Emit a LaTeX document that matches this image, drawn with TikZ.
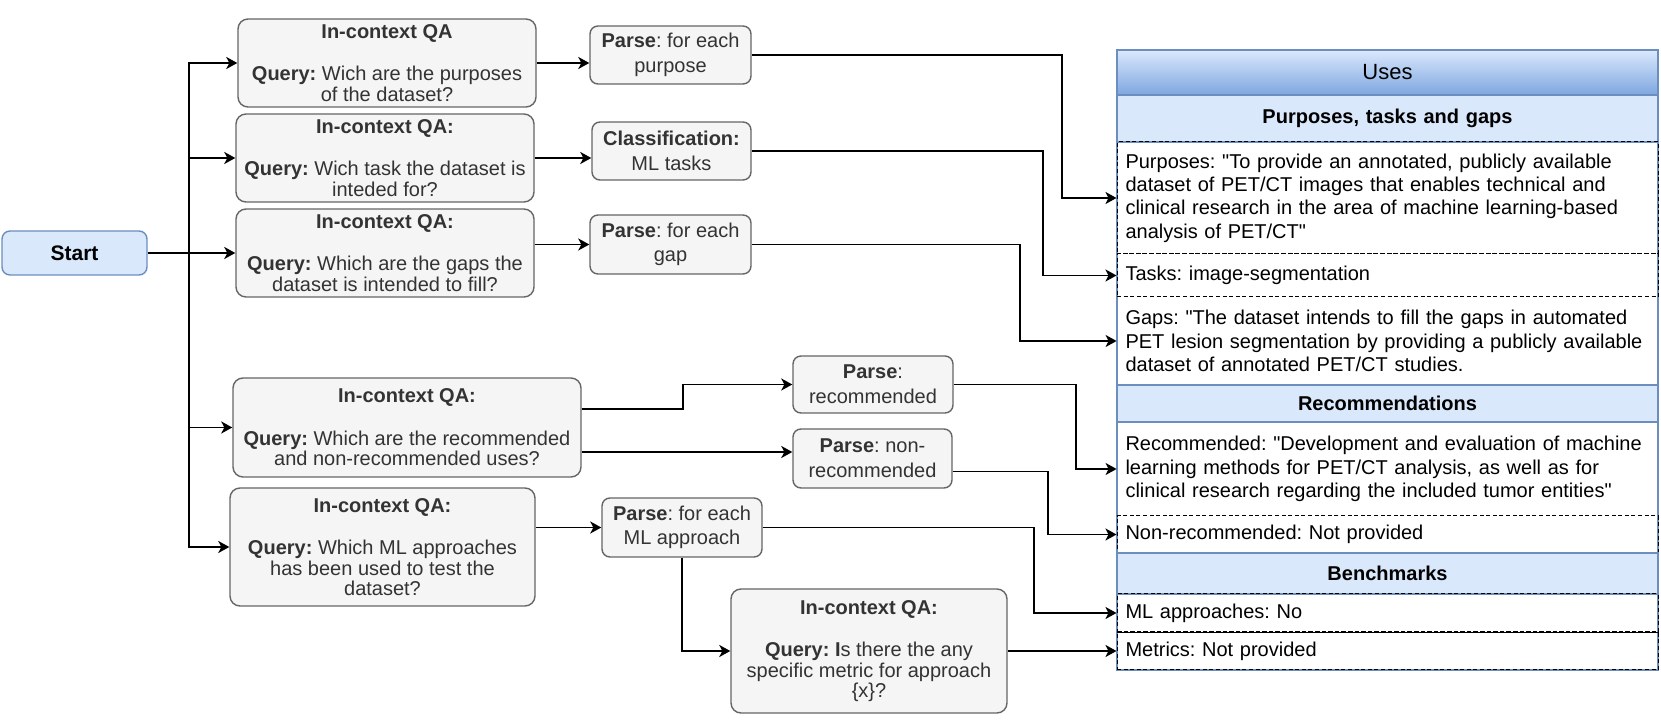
\documentclass[tikz,border=0pt]{standalone}
\usepackage{fontspec}
\setmainfont{Liberation Sans}
\usetikzlibrary{arrows.meta}
\definecolor{boxfill}{HTML}{F5F5F5}
\definecolor{boxline}{HTML}{666666}
\definecolor{boxtext}{HTML}{333333}
\definecolor{bluefill}{HTML}{DAE8FC}
\definecolor{blueline}{HTML}{6C8EBF}
\definecolor{bluedark}{HTML}{7EA6E0}
\newcommand{\straightq}{\textquotedbl}
\begin{document}
\frenchspacing
\begin{tikzpicture}[
x=0.5pt, y=-0.5pt,
qabox/.style={draw=boxline, fill=boxfill, rounded corners=5pt, line width=0.7pt, text=boxtext, align=center, inner sep=1pt, font=\fontsize{10}{10.2}\selectfont},
parsebox/.style={qabox, rounded corners=4pt, font=\fontsize{10}{12.3}\selectfont},
startbox/.style={draw=blueline, fill=bluefill, rounded corners=4pt, line width=0.7pt, font=\fontsize{10.5}{12}\selectfont\bfseries},
tblrow/.style={minimum width=270.5pt, text width=262pt, inner xsep=4.25pt, inner ysep=0pt, align=left, font=\fontsize{10}{11.65}\selectfont},
tblhead/.style={tblrow, draw=blueline, line width=0.7pt, fill=bluefill, align=center, font=\fontsize{10}{12}\selectfont\bfseries},
tbltitle/.style={tblrow, draw=blueline, line width=0.7pt, top color=bluefill, bottom color=bluedark, align=center, font=\fontsize{11}{13}\selectfont},
dashrow/.style={tblrow, draw=black, line width=0.5pt, dash pattern=on 2pt off 1.3pt},
arr/.style={-{Stealth[length=5.5pt,width=6pt,inset=1.5pt]}, line width=0.9pt}
]
\useasboundingbox (0,0) rectangle (1661,726);

\node[startbox, minimum width=72.5pt, minimum height=22pt] (start) at (74.5,253) {Start};

\node[qabox, minimum width=149pt, minimum height=44pt] (q1) at (387,63) {\textbf{In-context QA}\\[11pt]\textbf{Query:} Wich are the purposes\\of the dataset?};
\node[qabox, minimum width=149pt, minimum height=44pt] (q2) at (385,158) {\textbf{In-context QA:}\\[11pt]\textbf{Query:} Wich task the dataset is\\inteded for?};
\node[qabox, minimum width=149pt, minimum height=44pt] (q3) at (385,253) {\textbf{In-context QA:}\\[11pt]\textbf{Query:} Which are the gaps the\\dataset is intended to fill?};
\node[qabox, minimum width=174pt, minimum height=49.5pt] (q4) at (407,427.5) {\textbf{In-context QA:}\\[11pt]\textbf{Query:} Which are the recommended\\and non-recommended uses?};
\node[qabox, minimum width=152.5pt, minimum height=59pt] (q5) at (382.5,547) {\textbf{In-context QA:}\\[11pt]\textbf{Query:} Which ML approaches\\has been used to test the\\dataset?};
\node[qabox, minimum width=138pt, minimum height=62pt] (q6) at (869,651) {\textbf{In-context QA:}\\[11pt]\textbf{Query: I}s there the any\\specific metric for approach\\\{x\}?};

\node[parsebox, minimum width=80.5pt, minimum height=29pt] (p1) at (670.5,55) {\textbf{Parse}: for each\\purpose};
\node[parsebox, minimum width=79.5pt, minimum height=29pt] (p2) at (671.5,151) {\textbf{Classification:}\\ML tasks};
\node[parsebox, minimum width=80.5pt, minimum height=29.5pt] (p3) at (670.5,244.5) {\textbf{Parse}: for each\\gap};
\node[parsebox, minimum width=80pt, minimum height=28.5pt] (p4r) at (873,384.5) {\textbf{Parse}:\\recommended};
\node[parsebox, minimum width=79.5pt, minimum height=29.5pt] (p4n) at (872.5,458.5) {\textbf{Parse}: non-\\recommended};
\node[parsebox, minimum width=80pt, minimum height=29.5pt] (p5) at (682,527.5) {\textbf{Parse}: for each\\ML approach};

\draw[blueline, fill=white, line width=0.7pt] (1117,50) rectangle (1658,670);
\node[tbltitle, minimum height=22.5pt] (uses) at (1387.5,72.5) {Uses};
\node[tblhead, minimum height=23.5pt] (sec1) at (1387.5,118.5) {Purposes, tasks and gaps};
\node[dashrow, minimum height=56pt] (purp) at (1387.5,198) {Purposes: \straightq To provide an annotated, publicly available\\dataset of PET/CT images that enables technical and\\clinical research in the area of machine learning-based\\analysis of PET/CT\straightq};
\node[dashrow, minimum height=21.5pt] (task) at (1387.5,275.5) {Tasks: image-segmentation};
\node[tblrow, minimum height=44pt] (gaps) at (1387.5,341) {Gaps: \straightq The dataset intends to fill the gaps in automated\\PET lesion segmentation by providing a publicly available\\dataset of annotated PET/CT studies.};
\node[tblhead, minimum height=18.5pt] (sec2) at (1387.5,403.5) {Recommendations};
\node[tblrow, minimum height=47pt] (recm) at (1387.5,469) {Recommended: \straightq Development and evaluation of machine\\learning methods for PET/CT analysis, as well as for\\clinical research regarding the included tumor entities\straightq};
\node[dashrow, minimum height=18.5pt] (nrec) at (1387.5,534.5) {Non-recommended: Not provided};
\node[tblhead, minimum height=20.5pt] (sec3) at (1387.5,573.5) {Benchmarks};
\node[dashrow, minimum height=19pt] (mlap) at (1387.5,613) {ML approaches: No};
\node[dashrow, minimum height=19pt] (metr) at (1387.5,651) {Metrics: Not provided};
\draw[line width=0.5pt] (mlap.south west) -- (mlap.south east);

\coordinate (trunk) at (189,253);
\draw[arr] (start.east) -- (trunk) |- (q1.west);
\draw[arr] (trunk) |- (q2.west);
\draw[arr] (trunk) -- (q3.west);
\draw[arr] (trunk) |- (q4.west);
\draw[arr] (trunk) |- (q5.west);

\draw[arr] (q1.east) -- (q1.east -| p1.west);
\draw[arr] (q2.east) -- (q2.east -| p2.west);
\draw[arr] (p3.west -| q3.east) -- (p3.west);
\draw[arr] ([yshift=9.25pt]q4.east) -- ++(101,0) |- (p4r.west);
\draw[arr] ([yshift=-12.25pt]q4.east) -- ([yshift=-12.25pt]q4.east -| p4n.west);
\draw[arr] (p5.west -| q5.east) -- (p5.west);
\draw[arr] (p5.south) |- (q6.west);

\draw[arr] (p1.east) -- ++(310,0) |- (purp.west);
\draw[arr] (p2.east) -- ++(291,0) |- (task.west);
\draw[arr] (p3.east) -- ++(268,0) |- (gaps.west);
\draw[arr] (p4r.east) -- ++(122,0) |- (recm.west);
\draw[arr] ([yshift=-6.5pt]p4n.east) -- ++(95,0) |- (nrec.west);
\draw[arr] (p5.east) -- ++(271,0) |- (mlap.west);
\draw[arr] (q6.east) -- (metr.west);
\end{tikzpicture}
\end{document}
